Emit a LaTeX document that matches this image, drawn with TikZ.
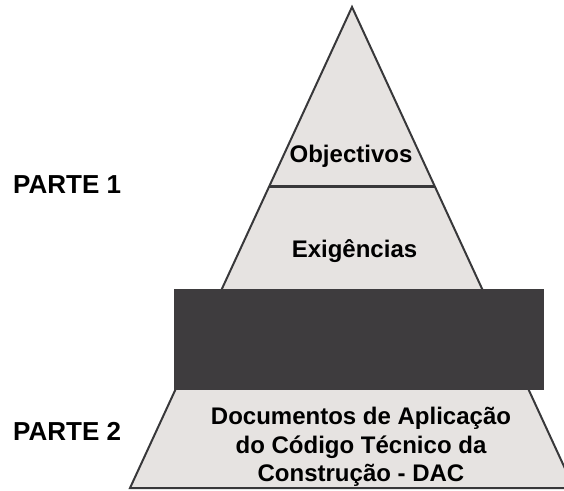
\documentclass[tikz,border=0pt]{standalone}
\usepackage{fontspec}
\setmainfont{Liberation Sans}
\usetikzlibrary{calc}
\definecolor{pyrfill}{HTML}{E6E3E1}
\definecolor{blockdark}{HTML}{3E3C3E}
\definecolor{edgecol}{HTML}{38383A}
\begin{document}
\begin{tikzpicture}[x=1pt,y=-1pt,
  pyr/.style={fill=pyrfill, draw=edgecol, line width=2pt, line join=miter},
  sepline/.style={draw=edgecol, line width=3pt},
  block/.style={fill=blockdark},
  lbl/.style={font=\bfseries\fontsize{24}{28}\selectfont, inner sep=0pt, anchor=base},
  partlbl/.style={font=\bfseries\fontsize{26}{30}\selectfont, inner sep=0pt, anchor=base west}]
\useasboundingbox (0,0) rectangle (564,490);
\coordinate (apex) at (352,7);
\coordinate (bl) at (130,488);
\coordinate (br) at (574,488);
\draw[pyr] (apex) -- (br) -- (bl) -- cycle;
\coordinate (sl) at ($(apex)!180/481!(bl)$);
\coordinate (sr) at ($(apex)!180/481!(br)$);
\draw[sepline] (sl) -- (sr);
\fill[block] (174,289) rectangle (544,390);
\node[lbl] (obj) at (351,162) {Objectivos};
\node[lbl] (exi) at (354.5,257) {Exigências};
\node[lbl] (dac1) at (361,424) {Documentos de Aplicação};
\node[lbl] (dac2) at (361,453) {do Código Técnico da};
\node[lbl] (dac3) at (361,481) {Construção - DAC};
\node[partlbl] (p1) at (13,193) {PARTE 1};
\node[partlbl] (p2) at (13,440) {PARTE 2};
\end{tikzpicture}
\end{document}
